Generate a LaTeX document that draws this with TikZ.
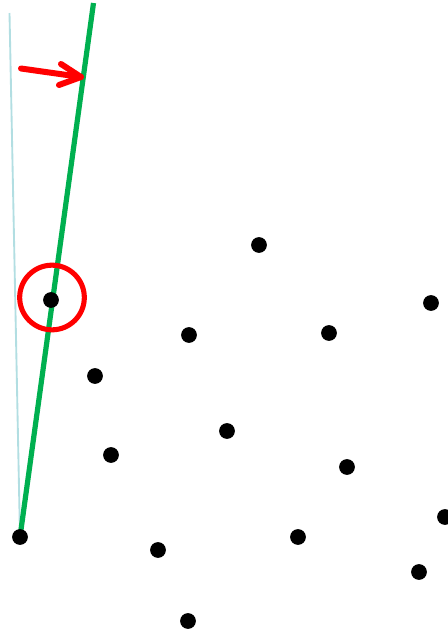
\documentclass[tikz,border=0pt]{standalone}
\usetikzlibrary{arrows.meta,backgrounds}
\definecolor{lgreen}{RGB}{0,176,80}
\definecolor{lcyan}{RGB}{178,222,226}
\begin{document}
\begin{tikzpicture}[x=0.75pt,y=-0.75pt,
  dot/.style={circle,fill=black,draw=none,minimum size=11.8pt,inner sep=0pt},
  greenline/.style={draw=lgreen,line width=3.9pt},
  cyanline/.style={draw=lcyan,line width=1.4pt},
  redmark/.style={draw=red,line width=4.5pt,line cap=round,line join=round}]
\useasboundingbox (0,0) rectangle (447,632);
% dots
\node[dot] (d1) at (259,245) {};
\node[dot] (d2) at (431,303) {};
\node[dot] (d3) at (51,300) {};
\node[dot] (d4) at (189,335) {};
\node[dot] (d5) at (329,333) {};
\node[dot] (d6) at (95,376) {};
\node[dot] (d7) at (227,431) {};
\node[dot] (d8) at (111,455) {};
\node[dot] (d9) at (347,467) {};
\node[dot] (d10) at (20,537) {};
\node[dot] (d11) at (158,550) {};
\node[dot] (d12) at (298,537) {};
\node[dot] (d13) at (445,517) {};
\node[dot] (d14) at (419,572) {};
\node[dot] (d15) at (188,621) {};
% lines (behind the dots)
\coordinate (ctop) at (9.5,13);
\coordinate (gtop) at (93.5,3);
\begin{scope}[on background layer]
\draw[cyanline] (ctop) -- (d10.center);
\draw[greenline] (d10.center) -- (gtop);
\end{scope}
% red circle
\node[draw=red,line width=3.8pt,circle,minimum size=48.5pt,inner sep=0pt] (ring) at (52,297.5) {};
% red arrow
\coordinate (a0) at (21,68.5);
\coordinate (a1) at (81,77);
\coordinate (b1) at (61,64);
\coordinate (b2) at (59,85);
\draw[redmark] (a0) -- (a1);
\draw[redmark] (b1) -- (a1) -- (b2);
\end{tikzpicture}
\end{document}
